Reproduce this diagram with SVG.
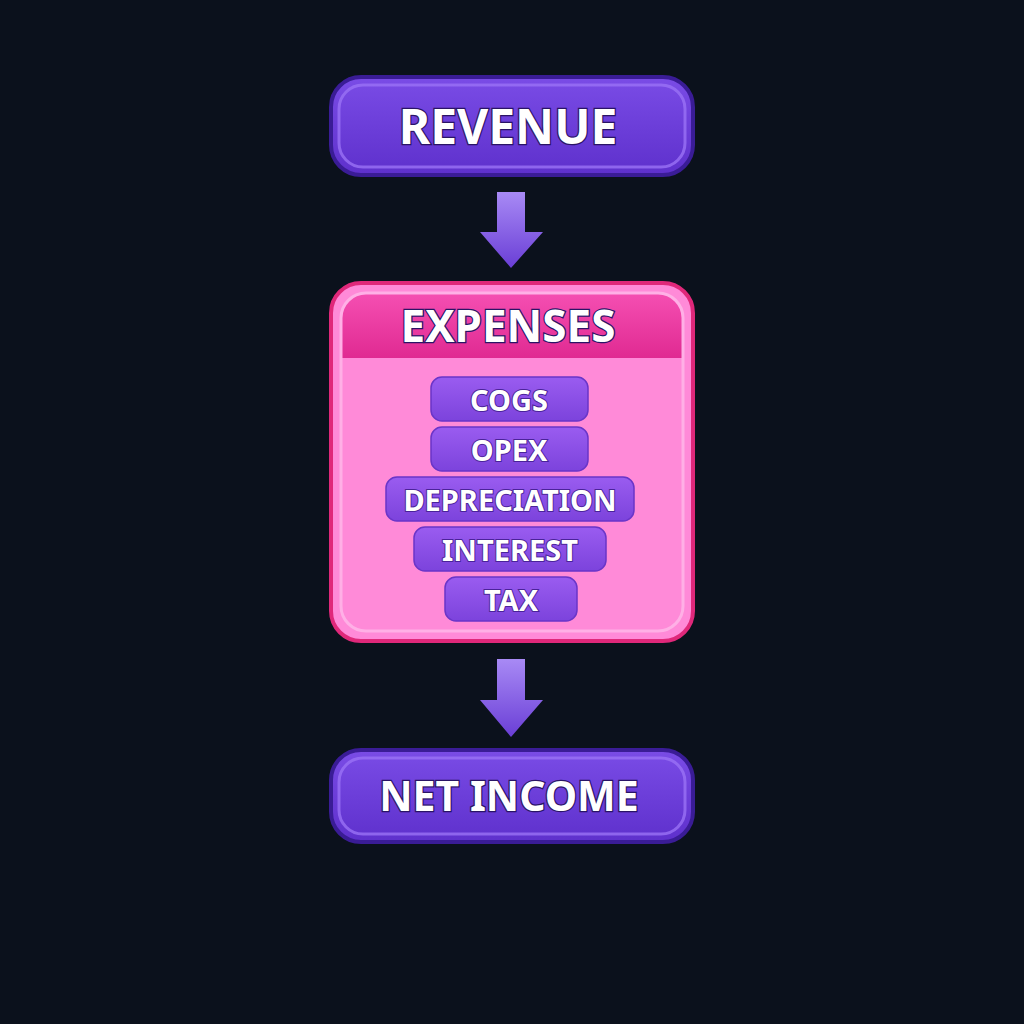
<svg xmlns="http://www.w3.org/2000/svg" width="1024" height="1024" viewBox="0 0 1024 1024">
<style>
.big{font-family:"Noto Sans","Open Sans","Liberation Sans",sans-serif;font-weight:bold;fill:#ffffff;stroke:#2a1466;stroke-width:2.5;paint-order:stroke;text-anchor:middle;dominant-baseline:central}
.pilltxt{font-family:"Noto Sans","Open Sans","Liberation Sans",sans-serif;font-weight:bold;font-size:29px;fill:#ffffff;stroke:#4a2399;stroke-width:2;paint-order:stroke;text-anchor:middle;dominant-baseline:central}
.pill{fill:url(#pillg);stroke:#6a35c8;stroke-width:1.5}
.main{fill:url(#maing);stroke:#3a1c96;stroke-width:4}
.inner{fill:none;stroke:#9a72f5;stroke-width:3;opacity:0.8}
.arrow{fill:url(#arrowg)}
</style>
<defs>
<linearGradient id="maing" x1="0" y1="0" x2="0" y2="1">
<stop offset="0" stop-color="#7a4ce6"/>
<stop offset="1" stop-color="#5e30cc"/>
</linearGradient>
<linearGradient id="pillg" x1="0" y1="0" x2="0" y2="1">
<stop offset="0" stop-color="#9a5cf0"/>
<stop offset="1" stop-color="#7c43dc"/>
</linearGradient>
<linearGradient id="arrowg" x1="0" y1="0" x2="0" y2="1">
<stop offset="0" stop-color="#a88af5"/>
<stop offset="1" stop-color="#6a3ed6"/>
</linearGradient>
<linearGradient id="headg" x1="0" y1="0" x2="0" y2="1">
<stop offset="0" stop-color="#f54fb2"/>
<stop offset="1" stop-color="#e02a92"/>
</linearGradient>
</defs>
<rect width="1024" height="1024" fill="#0b111c"/>

<g id="revenue">
<rect class="main" x="331" y="77" width="362" height="98" rx="30"/>
<rect class="inner" x="339" y="85" width="346" height="82" rx="24"/>
<text class="big" x="508" y="125" font-size="48">REVENUE</text>
</g>

<g id="connectors">
<path class="arrow" d="M497,192 H525 V232 H543 L511,268 L480,232 H497 Z"/>
<path class="arrow" d="M497,659 H525 V700 H543 L511,737 L480,700 H497 Z"/>
</g>

<g id="expenses">
<rect x="331" y="283" width="362" height="358" rx="30" fill="#ff8ad8" stroke="#e0287a" stroke-width="4"/>
<path d="M341,358 V318 A25,25 0 0 1 366,293 H658 A25,25 0 0 1 683,318 V358 Z" fill="url(#headg)"/>
<rect x="341" y="293" width="342" height="338" rx="25" fill="none" stroke="#ffb0e6" stroke-width="3"/>
<text class="big" x="508" y="325" font-size="44" stroke="#a01560">EXPENSES</text>
</g>

<g id="cogs">
<rect class="pill" x="431" y="377" width="157" height="44" rx="11"/>
<text class="pilltxt" x="509" y="399">COGS</text>
</g>
<g id="opex">
<rect class="pill" x="431" y="427" width="157" height="44" rx="11"/>
<text class="pilltxt" x="509" y="449">OPEX</text>
</g>
<g id="depreciation">
<rect class="pill" x="386" y="477" width="248" height="44" rx="11"/>
<text class="pilltxt" x="510" y="499">DEPRECIATION</text>
</g>
<g id="interest">
<rect class="pill" x="414" y="527" width="192" height="44" rx="11"/>
<text class="pilltxt" x="510" y="549">INTEREST</text>
</g>
<g id="tax">
<rect class="pill" x="445" y="577" width="132" height="44" rx="11"/>
<text class="pilltxt" x="511" y="599">TAX</text>
</g>

<g id="net-income">
<rect class="main" x="331" y="750" width="362" height="92" rx="30"/>
<rect class="inner" x="339" y="758" width="346" height="76" rx="24"/>
<text class="big" x="509" y="795" font-size="41">NET INCOME</text>
</g>
</svg>
